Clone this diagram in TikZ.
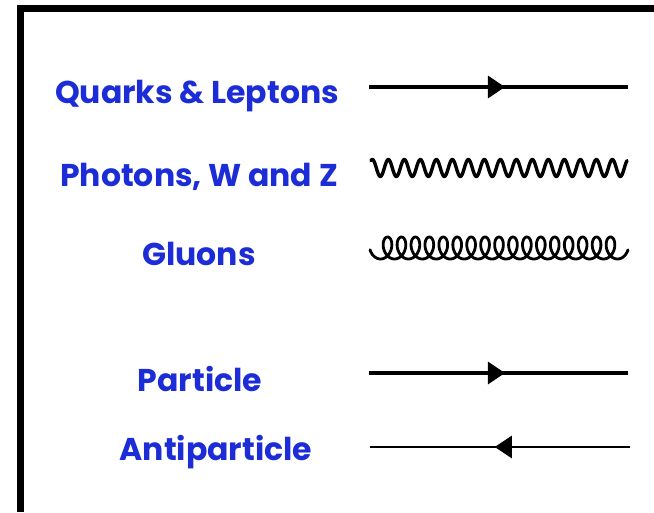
\documentclass[tikz,border=0pt]{standalone}
\usepackage{fontspec}
\setmainfont{Poppins}
\usetikzlibrary{decorations.markings,arrows.meta}
\definecolor{lblue}{RGB}{28,44,214}
\tikzset{
  lbl/.style={text=lblue,font=\fontsize{31.5}{32}\selectfont\bfseries,inner sep=0pt,anchor=base},
  fermion/.style={line width=3.2pt},
  fwd/.style={postaction={decorate,decoration={markings,mark=at position #1 with {\arrow{Triangle[length=17pt,width=22pt]}}}}},
  bwd/.style={postaction={decorate,decoration={markings,mark=at position #1 with {\arrowreversed{Triangle[length=17pt,width=22pt]}}}}},
  photon/.style={line width=3.4pt,line cap=round,line join=round},
  gluon/.style={line width=2.8pt,line cap=round,line join=round},
}
\begin{document}
\begin{tikzpicture}[x=1pt,y=-1pt]
\useasboundingbox (0,0) rectangle (654,512);
\fill[white] (0,0) rectangle (654,512);
\draw[line width=7pt] (20,512) -- (20,8.5) -- (654,8.5);

\node[lbl] (q) at (197,103) {Quarks \& Leptons};
\node[lbl] (p) at (199,186) {Photons, W and Z};
\node[lbl] (g) at (199,265) {Gluons};
\node[lbl] (pa) at (200,391) {Particle};
\node[lbl] (ap) at (216,460) {Antiparticle};

\coordinate (q1) at (369,87);  \coordinate (q2) at (628,87);
\coordinate (pa1) at (369,373); \coordinate (pa2) at (628,373);
\coordinate (ap1) at (370,447); \coordinate (ap2) at (630,447);

\draw[fermion,fwd=0.525] (q1) -- (q2);
% photon: 16 periods from x=371 to x=627
\draw[photon] plot[domain=0:256,samples=420,variable=\u] ({371+\u},{168-8.5*sin(\u/16*360+60)});
% gluon: prolate cycloid, loops on top
\draw[gluon] plot[domain=0.55*pi:35.45*pi,samples=900,variable=\t] ({373.58+2.218*\t-7.5*sin(\t r)},{248-11*cos(\t r)});
\draw[fermion,fwd=0.525] (pa1) -- (pa2);
\draw[fermion,line width=2.8pt,bwd=0.48] (ap1) -- (ap2);
\end{tikzpicture}
\end{document}
